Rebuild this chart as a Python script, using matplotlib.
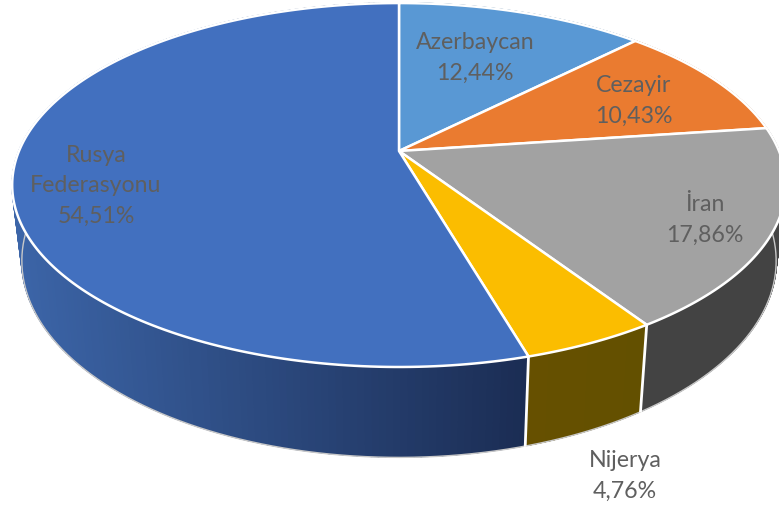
#!/usr/bin/env python3
# 3D pie redrawn with a perspective map of the unit circle
import numpy as np
import matplotlib
matplotlib.use('Agg')
import matplotlib.pyplot as plt
from matplotlib.colors import to_rgb

# slices clockwise from the top
names = ['Azerbaycan', 'Cezayir', 'İran', 'Nijerya', 'Rusya\nFederasyonu']
shares = [12.44, 10.43, 17.86, 4.76, 54.51]
share_labels = ['12,44%', '10,43%', '17,86%', '4,76%', '54,51%']

top_colors = ['#5998D4', '#EA7B30', '#A2A2A2', '#FBBD00', '#4270BF']
side_left = ['#3A6A96', '#9E5320', '#434343', '#665000', '#3C65A8']
side_right = ['#3A6A96', '#9E5320', '#434343', '#635000', '#1B2D54']
label_pos = [(475, 58), (634, 101), (705, 220), (625, 476), (96, 186)]

W, H = 779, 509
CX, CY = 399, 151
A, B, K = 380, 175.6, 0.187


def top_rim(theta):
    # theta clockwise from 12 o'clock
    u, v = np.sin(theta), np.cos(theta)
    w = 1 + K * v
    return CX + A * u / w, CY - B * v / w


def bottom_rim(theta):
    x, y = top_rim(theta)
    return CX + 0.975 * (x - CX), 446 + 1.08 * (y - 357)


fig = plt.figure(figsize=(W / 100, H / 100), dpi=100)
ax = fig.add_axes([0, 0, 1, 1])
ax.set_xlim(0, W)
ax.set_ylim(H, 0)
ax.axis('off')

edges = 2 * np.pi * np.cumsum([0] + shares) / sum(shares)

# sides first, strip by strip so the shade can run left to right
for i in range(len(shares)):
    t = np.linspace(edges[i], edges[i + 1], 220)
    xt, yt = top_rim(t)
    xb, yb = bottom_rim(t)
    c0, c1 = np.array(to_rgb(side_left[i])), np.array(to_rgb(side_right[i]))
    xmin, xmax = xb.min(), xb.max()
    for j in range(len(t) - 1):
        f = np.clip((xb[j] - xmin) / max(xmax - xmin, 1), 0, 1)
        col = c0 + (c1 - c0) * f
        ax.fill([xt[j], xt[j + 1], xb[j + 1], xb[j]],
                [yt[j], yt[j + 1], yb[j + 1], yb[j]],
                color=col, lw=1.2, zorder=2)

# thin outline under the body
t = np.linspace(np.radians(85), np.radians(285), 400)
xb, yb = bottom_rim(t)
ax.plot(xb, yb + 0.6, color='#C8C8C8', lw=1, zorder=3)

# white splits on the front of the body
for e in edges[3:5]:
    xt, yt = top_rim(e)
    xb, yb = bottom_rim(e)
    ax.plot([xt, xb], [yt, yb], color='white', lw=2, zorder=3)

# top face
for i in range(len(shares)):
    t = np.linspace(edges[i], edges[i + 1], 200)
    xt, yt = top_rim(t)
    ax.fill(np.r_[CX, xt], np.r_[CY, yt], facecolor=top_colors[i],
            edgecolor='white', lw=1.8, joinstyle='round', zorder=4)

for name, share, (x, y) in zip(names, share_labels, label_pos):
    ax.text(x, y, name + '\n' + share, ha='center', va='center', fontsize=16.7,
            family=['Lato', 'DejaVu Sans'], color='#5F5F5F', linespacing=1.55, zorder=5)

fig.savefig('out.png', dpi=100)
